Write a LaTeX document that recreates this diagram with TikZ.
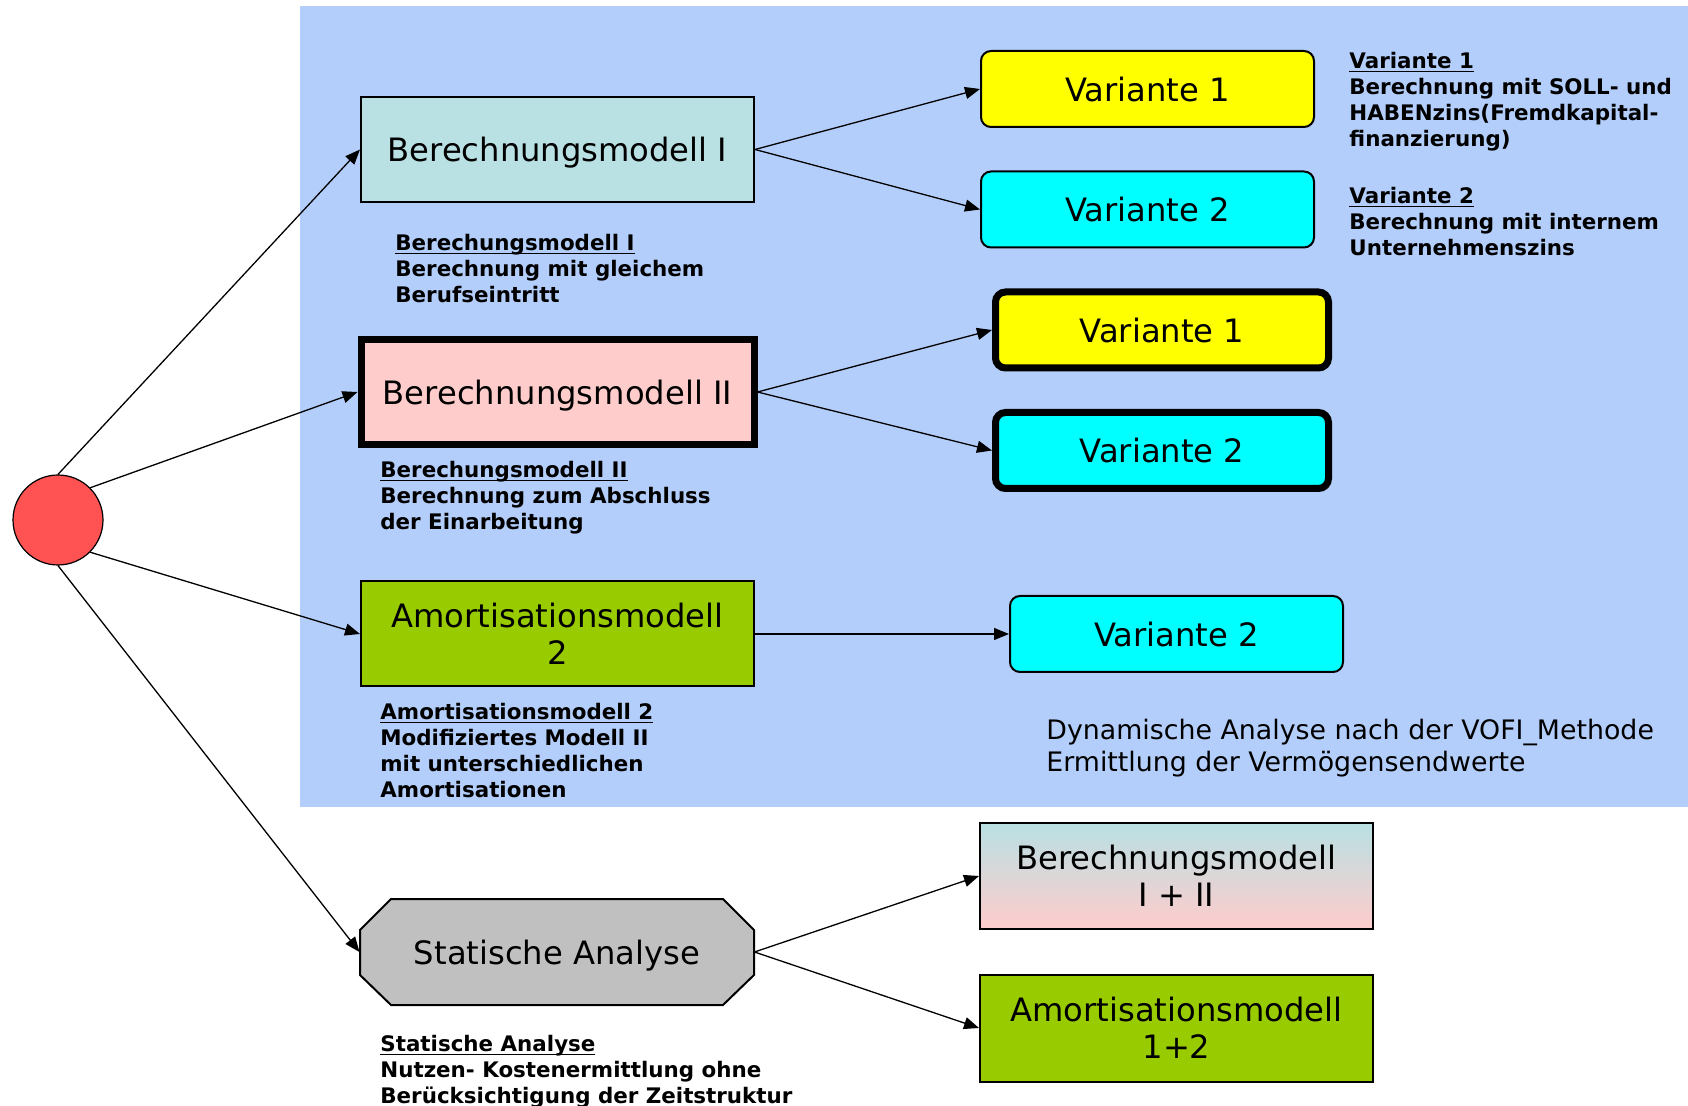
\documentclass[tikz,border=0pt]{standalone}
\usepackage{fontspec}
\setmainfont{DejaVu Sans}
\usepackage{tikz}
\usetikzlibrary{arrows.meta,positioning}

\definecolor{bgblue}{RGB}{180,206,251}
\definecolor{bmteal}{RGB}{185,224,227}
\definecolor{bmpink}{RGB}{255,204,204}
\definecolor{amgreen}{RGB}{153,204,0}
\definecolor{stgray}{RGB}{192,192,192}
\definecolor{rootred}{RGB}{255,82,82}
\definecolor{varyellow}{RGB}{255,255,0}
\definecolor{varcyan}{RGB}{0,255,255}

\newcommand{\notehead}[1]{\underline{\raisebox{0pt}[\height][0pt]{#1}}}

\begin{document}
\begin{tikzpicture}[x=0.5pt,y=-0.5pt,
	box/.style={draw,line width=1pt,minimum width=196.5pt,minimum height=52.5pt,inner sep=0pt,align=center,font=\fontsize{16.1}{18.3}\selectfont},
	var/.style={draw,line width=1pt,rounded corners=5pt,minimum width=166.5pt,minimum height=38pt,inner sep=0pt,font=\fontsize{16.1}{18.3}\selectfont},
	oneline/.style={text height=12.2pt,text depth=0pt},
	heavy/.style={line width=3.5pt},
	note/.style={anchor=north west,align=left,inner sep=0pt,font=\fontsize{10.7}{13}\selectfont\bfseries},
	link/.style={-{Triangle[length=7.5pt,width=6pt]},line width=0.65pt}]
	\useasboundingbox (0,0) rectangle (1688,1106);
	\fill[bgblue] (300,6) rectangle (1688,807);

	\node[circle,draw,fill=rootred,line width=0.6pt,minimum size=45pt,inner sep=0pt] (root) at (58,520) {};

	\node[box,oneline,fill=bmteal] (bmA) at (557.5,149.5) {Berechnungsmodell I};
	\node[box,oneline,heavy,fill=bmpink] (bmB) at (557.5,392) {Berechnungsmodell II};
	\node[box,fill=amgreen] (amort) at (557.5,634) {Amortisationsmodell\\2};
	% chamfered outline under the text node
	\draw[line width=1pt,fill=stgray] (391,899) -- (723,899) -- (754,930) -- (754,975) -- (723,1005) -- (391,1005) -- (360,975) -- (360,930) -- cycle;
	\node[box,oneline,draw=none] (stat) at (557,952) {Statische Analyse};

	\node[var,oneline,fill=varyellow] (vA1) at (1147.5,89) {Variante 1};
	\node[var,oneline,fill=varcyan] (vA2) at (1147.5,209.5) {Variante 2};
	\node[var,oneline,heavy,fill=varyellow] (vB1) at (1162,330) {Variante 1};
	\node[var,oneline,heavy,fill=varcyan] (vB2) at (1162,450.5) {Variante 2};
	\node[var,oneline,fill=varcyan] (vC2) at (1176.5,634) {Variante 2};
	\node[box,top color=bmteal,bottom color=bmpink] (bmsum) at (1176.5,876) {Berechnungsmodell\\I + II};
	\node[box,fill=amgreen,minimum height=53.5pt] (amsum) at (1176.5,1028) {Amortisationsmodell\\1+2};

	% notes
	\node[note] (nbmA) at (395,234) {\notehead{Berechungsmodell I}\\Berechnung mit gleichem\\Berufseintritt};
	\node[note] (nbmB) at (380,461) {\notehead{Berechungsmodell II}\\Berechnung zum Abschluss\\der Einarbeitung};
	\node[note] (namort) at (380,703) {\notehead{Amortisationsmodell 2}\\Modifiziertes Modell II\\mit unterschiedlichen\\Amortisationen};
	\node[note] (nstat) at (380,1035) {\notehead{Statische Analyse}\\Nutzen- Kostenermittlung ohne\\Berücksichtigung der Zeitstruktur};
	\node[note] (nvA1) at (1349,52) {\notehead{Variante 1}\\Berechnung mit SOLL- und\\HABENzins(Fremdkapital-\\finanzierung)};
	\node[note] (nvA2) at (1349,187) {\notehead{Variante 2}\\Berechnung mit internem\\Unternehmenszins};
	\node[note,font=\fontsize{13.4}{16}\selectfont] (dyn) at (1046,719) {Dynamische Analyse nach der VOFI\_Methode\\Ermittlung der Vermögensendwerte};

	\draw[link] (root.north) -- (bmA.west);
	\draw[link] (root.north east) -- (bmB.west);
	\draw[link] (root.south east) -- (amort.west);
	\draw[link] (root.south) -- (stat.west);
	\draw[link] (bmA.east) -- (vA1.west);
	\draw[link] (bmA.east) -- (vA2.west);
	\draw[link] (bmB.east) -- (vB1.west);
	\draw[link] (bmB.east) -- (vB2.west);
	\draw[link] (amort.east) -- (vC2.west);
	\draw[link] (stat.east) -- (bmsum.west);
	\draw[link] (stat.east) -- (amsum.west);
\end{tikzpicture}
\end{document}
